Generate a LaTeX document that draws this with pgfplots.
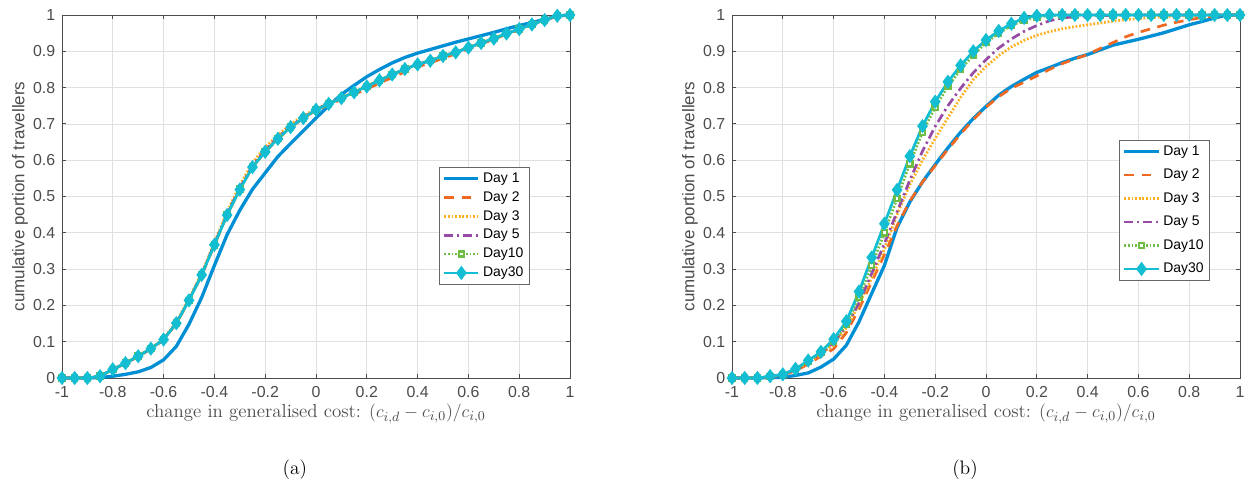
\documentclass[border=0pt]{standalone}
\usepackage{pgfplots}
\pgfplotsset{compat=1.18}
\usepackage{pgfplotstable}
\usepackage{fontspec}
\setsansfont{Liberation Sans}

\definecolor{cA}{RGB}{0,142,212}
\definecolor{cB}{RGB}{240,105,35}
\definecolor{cC}{RGB}{255,176,30}
\definecolor{cD}{RGB}{150,75,165}
\definecolor{cE}{RGB}{110,190,70}
\definecolor{cF}{RGB}{20,190,210}
\definecolor{tk}{RGB}{75,75,75}

\pgfplotstableread{
x     d1    d2    d3    d5    d10   d30
-1    0     0     0     0     0     0
-0.95 0     0     0     0     0     0
-0.9  0     0     0     0     0     0
-0.85 0.001 0.005 0.005 0.005 0.005 0.005
-0.8  0.005 0.023 0.024 0.024 0.024 0.024
-0.75 0.010 0.040 0.041 0.041 0.041 0.041
-0.7  0.017 0.059 0.061 0.060 0.060 0.060
-0.65 0.029 0.080 0.082 0.081 0.081 0.081
-0.6  0.050 0.105 0.108 0.106 0.106 0.106
-0.55 0.087 0.150 0.154 0.152 0.151 0.151
-0.5  0.148 0.213 0.218 0.215 0.214 0.214
-0.45 0.222 0.283 0.289 0.286 0.285 0.284
-0.4  0.310 0.366 0.373 0.369 0.367 0.367
-0.35 0.395 0.449 0.458 0.452 0.450 0.449
-0.3  0.462 0.519 0.531 0.523 0.520 0.519
-0.25 0.520 0.581 0.593 0.585 0.582 0.581
-0.2  0.565 0.623 0.636 0.628 0.624 0.623
-0.15 0.610 0.659 0.669 0.663 0.660 0.659
-0.1  0.646 0.690 0.699 0.694 0.691 0.691
-0.05 0.681 0.715 0.722 0.718 0.716 0.716
0     0.716 0.738 0.742 0.740 0.739 0.739
0.05  0.750 0.753 0.757 0.756 0.755 0.755
0.1   0.781 0.767 0.772 0.771 0.771 0.771
0.15  0.806 0.781 0.788 0.787 0.787 0.787
0.2   0.830 0.796 0.804 0.803 0.803 0.803
0.25  0.850 0.812 0.821 0.820 0.820 0.820
0.3   0.868 0.828 0.836 0.836 0.836 0.836
0.35  0.883 0.843 0.851 0.851 0.851 0.851
0.4   0.895 0.857 0.864 0.864 0.864 0.864
0.45  0.905 0.868 0.875 0.874 0.874 0.874
0.5   0.915 0.881 0.887 0.887 0.887 0.887
0.55  0.925 0.893 0.898 0.897 0.897 0.897
0.6   0.934 0.906 0.911 0.910 0.910 0.910
0.65  0.943 0.920 0.923 0.923 0.923 0.923
0.7   0.952 0.933 0.935 0.935 0.935 0.935
0.75  0.962 0.947 0.949 0.949 0.949 0.949
0.8   0.971 0.960 0.961 0.961 0.961 0.961
0.85  0.979 0.973 0.974 0.974 0.974 0.974
0.9   0.988 0.985 0.986 0.986 0.986 0.986
0.95  0.997 0.997 0.998 0.998 0.998 0.998
1     1     1     1     1     1     1
}\tabL

\pgfplotstableread{
x     d1    d2    d3    d5    d10   d30
-1    0     0     0     0     0     0
-0.95 0     0     0     0     0     0
-0.9  0     0     0     0     0     0
-0.85 0.001 0.003 0.003 0.004 0.004 0.005
-0.8  0.002 0.008 0.009 0.010 0.010 0.010
-0.75 0.007 0.020 0.022 0.023 0.024 0.025
-0.7  0.014 0.038 0.043 0.045 0.046 0.048
-0.65 0.030 0.060 0.065 0.068 0.070 0.072
-0.6  0.052 0.080 0.092 0.098 0.102 0.107
-0.55 0.090 0.125 0.138 0.143 0.147 0.156
-0.5  0.155 0.190 0.202 0.207 0.222 0.238
-0.45 0.233 0.265 0.275 0.288 0.310 0.332
-0.4  0.310 0.340 0.355 0.370 0.400 0.425
-0.35 0.415 0.420 0.450 0.458 0.495 0.518
-0.3  0.485 0.487 0.532 0.545 0.590 0.611
-0.25 0.540 0.540 0.600 0.625 0.677 0.694
-0.2  0.588 0.585 0.660 0.693 0.746 0.761
-0.15 0.634 0.630 0.717 0.750 0.803 0.816
-0.1  0.677 0.672 0.773 0.798 0.850 0.861
-0.05 0.715 0.712 0.822 0.841 0.890 0.900
0     0.748 0.746 0.858 0.877 0.924 0.931
0.05  0.779 0.775 0.888 0.909 0.950 0.956
0.1   0.803 0.798 0.912 0.934 0.971 0.976
0.15  0.823 0.815 0.930 0.955 0.986 0.992
0.2   0.842 0.832 0.944 0.971 0.994 0.998
0.25  0.855 0.850 0.954 0.984 0.998 1
0.3   0.869 0.866 0.962 0.992 1     1
0.35  0.881 0.879 0.968 0.995 1     1
0.4   0.891 0.891 0.973 0.997 1     1
0.45  0.904 0.908 0.978 0.998 1     1
0.5   0.917 0.924 0.983 0.999 1     1
0.55  0.925 0.940 0.987 1     1     1
0.6   0.933 0.952 0.990 1     1     1
0.65  0.942 0.962 0.993 1     1     1
0.7   0.951 0.972 0.995 1     1     1
0.75  0.962 0.980 0.997 1     1     1
0.8   0.973 0.987 0.998 1     1     1
0.85  0.982 0.993 0.999 1     1     1
0.9   0.992 0.997 1     1     1     1
0.95  1     1     1     1     1     1
1     1     1     1     1     1     1
}\tabR

\pgfplotsset{
  mystyle/.style={
    scale only axis, width=338.67pt, height=242pt,
    xmin=-1, xmax=1, ymin=0, ymax=1, clip=false,
    xtick={-1,-0.8,-0.6,-0.4,-0.2,0,0.2,0.4,0.6,0.8,1},
    xticklabels={-1,-0.8,-0.6,-0.4,-0.2,0,0.2,0.4,0.6,0.8,1},
    ytick={0,0.1,0.2,0.3,0.4,0.5,0.6,0.7,0.8,0.9,1},
    yticklabels={0,0.1,0.2,0.3,0.4,0.5,0.6,0.7,0.8,0.9,1},
    grid=major, major grid style={draw=black!12, line width=0.5pt},
    axis line style={draw=black!70, line width=0.6pt},
    tick style={draw=black!70, line width=0.6pt},
    tick align=inside, major tick length=2.7pt,
    ticklabel style={font=\sffamily\fontsize{10.6}{12}\selectfont, text=tk},
    xticklabel style={yshift=-2pt},
    yticklabel style={xshift=-1pt},
    xlabel={change in generalised cost: $(c_{i,d}-c_{i,0})/c_{i,0}$},
    xlabel style={font=\fontsize{12.6}{14}\selectfont, text=tk, at={(axis description cs:0.5,0)}, anchor=center, yshift=-24pt},
    ylabel={cumulative portion of travellers},
    ylabel style={font=\sffamily\fontsize{11.3}{13}\selectfont, text=tk, at={(axis description cs:0,0.5)}, anchor=center, yshift=28pt},
    legend cell align=left,
    legend image code/.code={\draw[mark repeat=2,mark phase=2] plot coordinates {(0cm,0cm) (0.4cm,0cm) (0.8cm,0cm)};},
    legend style={font=\sffamily\fontsize{9.3}{11}\selectfont, draw=black!60, line width=0.6pt, fill=white, anchor=north east, inner xsep=2pt, inner ysep=1.5pt},
  },
  s1/.style={cA, line width=2.2pt, solid},
  s2/.style={cB, line width=1.8pt, dash pattern=on 6.5pt off 5pt},
  s3/.style={cC, line width=1.8pt, dash pattern=on 1.2pt off 1.2pt},
  s5/.style={cD, line width=1.8pt, dash pattern=on 6pt off 2.5pt on 1.5pt off 2.5pt},
  s10/.style={cE, line width=1.8pt, dash pattern=on 1.2pt off 1.2pt, mark=square*, mark size=1.7pt, mark options={solid, fill=white, draw=cE, line width=1.6pt}},
  s30/.style={cF, line width=1.8pt, solid, mark=diamond*, mark size=3.3pt, mark options={solid, fill=cF, draw=cF}},
}

\begin{document}
\begin{tikzpicture}
\path[use as bounding box] (-41.33pt,-76pt) rectangle (794pt,252pt);
\begin{axis}[mystyle, at={(0pt,0pt)}, anchor=south west,
  legend style={at={(0.921,0.581)}, row sep=0.6pt}]
\addplot[s1] table[x=x,y=d1] {\tabL};
\addplot[s2] table[x=x,y=d2] {\tabL};
\addplot[s3] table[x=x,y=d3] {\tabL};
\addplot[s5] table[x=x,y=d5] {\tabL};
\addplot[s10] table[x=x,y=d10] {\tabL};
\addplot[s30] table[x=x,y=d30] {\tabL};
\legend{Day 1,Day 2,Day 3,Day 5,Day10,Day30}
\end{axis}
\begin{axis}[mystyle, at={(446.67pt,0pt)}, anchor=south west,
  legend style={at={(0.941,0.656)}, row sep=3.7pt}]
\addplot[s1] table[x=x,y=d1] {\tabR};
\addplot[s2] table[x=x,y=d2] {\tabR};
\addplot[s3] table[x=x,y=d3] {\tabR};
\addplot[s5] table[x=x,y=d5] {\tabR};
\addplot[s10] table[x=x,y=d10] {\tabR};
\addplot[s30] table[x=x,y=d30] {\tabR};
\legend{Day 1,Day 2,Day 3,Day 5,Day10,Day30}
\end{axis}
\node[font=\fontsize{13}{15}\selectfont] at (155.3pt,-61.3pt) {(a)};
\node[font=\fontsize{13}{15}\selectfont] at (602pt,-61.3pt) {(b)};
\end{tikzpicture}
\end{document}
